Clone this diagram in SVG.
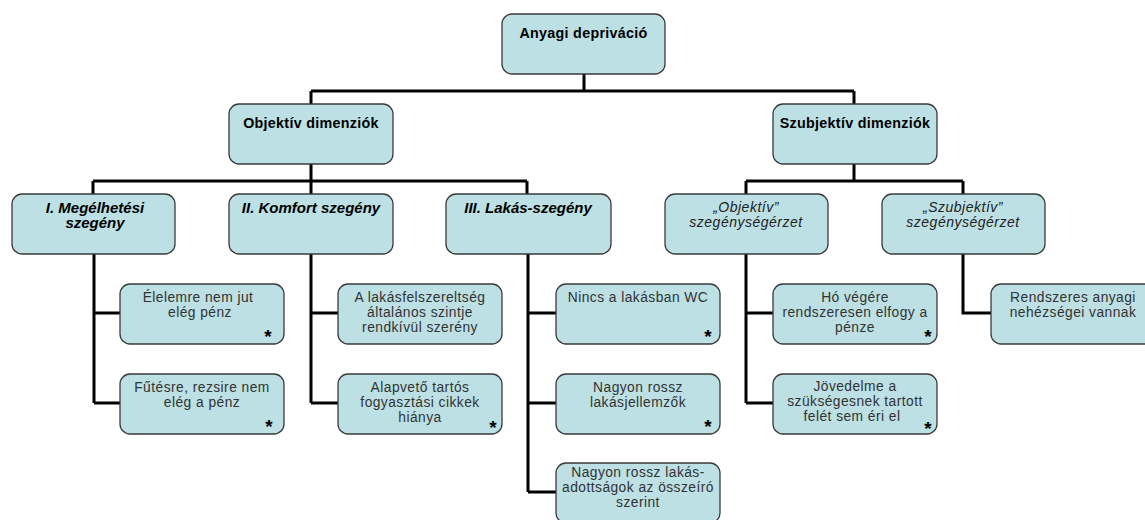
<svg xmlns="http://www.w3.org/2000/svg" width="1145" height="520" viewBox="0 0 1145 520">
<style>
.box{fill:#bce0e3;stroke:#3a3a3a;stroke-width:1.3}
.t{font-family:"Liberation Sans",Arial,sans-serif;font-size:14.3px;font-weight:bold;fill:#000;text-anchor:middle;letter-spacing:0.3px}
.ti{font-family:"Liberation Sans",Arial,sans-serif;font-size:15px;font-weight:bold;font-style:italic;fill:#000;text-anchor:middle}
.si{font-family:"Liberation Sans",Arial,sans-serif;font-size:14px;font-style:italic;fill:#222;text-anchor:middle;letter-spacing:0.5px}
.l{font-family:"Liberation Sans",Arial,sans-serif;font-size:13.8px;fill:#333;text-anchor:middle;letter-spacing:0.45px}
.ast{font-family:"Liberation Sans",Arial,sans-serif;font-size:19px;font-weight:bold;fill:#000;text-anchor:middle}
.c{fill:none;stroke:#000;stroke-width:3}
</style>
<g id="connectors">
<path class="c" d="M584 74V91M311 91H854M311 91V104M854 91V104"/>
<path class="c" d="M311 164V181M93 181H527M93 181V194M311 181V194M527 181V194"/>
<path class="c" d="M854 164V181M746 181H963M746 181V194M963 181V194"/>
<path class="c" d="M94 254V403M94 313H120M94 403H120"/>
<path class="c" d="M311 254V403M311 313H338M311 403H338"/>
<path class="c" d="M528 254V492M528 313H556M528 403H556M528 492H556"/>
<path class="c" d="M746 254V403M746 313H773M746 403H773"/>
<path class="c" d="M963 254V313H991"/>
</g>
<g id="n-root"><rect class="box" x="502" y="14" width="163" height="60" rx="10"/><text class="t" x="583.5" y="38">Anyagi depriváció</text></g>
<g id="n-obj"><rect class="box" x="229" y="104" width="164" height="60" rx="10"/><text class="t" x="311" y="128">Objektív dimenziók</text></g>
<g id="n-szub"><rect class="box" x="773" y="104" width="164" height="60" rx="10"/><text class="t" x="855" y="128">Szubjektív dimenziók</text></g>
<g id="n-megelh"><rect class="box" x="12" y="194" width="163" height="60" rx="10"/><text class="ti" x="95" y="213">I. Megélhetési</text><text class="ti" x="95" y="228">szegény</text></g>
<g id="n-komfort"><rect class="box" x="229" y="194" width="164" height="60" rx="10"/><text class="ti" x="311" y="213">II. Komfort szegény</text></g>
<g id="n-lakas"><rect class="box" x="446" y="194" width="165" height="60" rx="10"/><text class="ti" x="528" y="213">III. Lakás-szegény</text></g>
<g id="n-objerz"><rect class="box" x="665" y="194" width="163" height="60" rx="10"/><text class="si" x="746" y="212">„Objektív”</text><text class="si" x="746" y="227">szegénységérzet</text></g>
<g id="n-szuberz"><rect class="box" x="882" y="194" width="163" height="60" rx="10"/><text class="si" x="963" y="212">„Szubjektív”</text><text class="si" x="963" y="227">szegénységérzet</text></g>
<g id="n-elelem"><rect class="box" x="120" y="284" width="164" height="60" rx="10"/><text class="l" x="198" y="302">Élelemre nem jut</text><text class="l" x="200" y="317">elég pénz</text><text class="ast" x="268" y="343">*</text></g>
<g id="n-futes"><rect class="box" x="120" y="374" width="164" height="60" rx="10"/><text class="l" x="202" y="392">Fűtésre, rezsire nem</text><text class="l" x="202" y="407">elég a pénz</text><text class="ast" x="269" y="433">*</text></g>
<g id="n-felszer"><rect class="box" x="338" y="284" width="164" height="60" rx="10"/><text class="l" x="420" y="302">A lakásfelszereltség</text><text class="l" x="420" y="317">általános szintje</text><text class="l" x="420" y="332">rendkívül szerény</text></g>
<g id="n-alapveto"><rect class="box" x="338" y="374" width="164" height="60" rx="10"/><text class="l" x="420" y="392">Alapvető tartós</text><text class="l" x="420" y="407">fogyasztási cikkek</text><text class="l" x="420" y="422">hiánya</text><text class="ast" x="493" y="434">*</text></g>
<g id="n-wc"><rect class="box" x="556" y="284" width="164" height="60" rx="10"/><text class="l" x="638" y="302">Nincs a lakásban WC</text><text class="ast" x="708" y="343">*</text></g>
<g id="n-jellem"><rect class="box" x="556" y="374" width="164" height="60" rx="10"/><text class="l" x="638" y="392">Nagyon rossz</text><text class="l" x="638" y="407">lakásjellemzők</text><text class="ast" x="708" y="433">*</text></g>
<g id="n-adott"><rect class="box" x="556" y="463" width="164" height="60" rx="10"/><text class="l" x="638" y="477">Nagyon rossz lakás-</text><text class="l" x="638" y="492">adottságok az összeíró</text><text class="l" x="638" y="507">szerint</text></g>
<g id="n-ho"><rect class="box" x="773" y="284" width="164" height="60" rx="10"/><text class="l" x="855" y="302">Hó végére</text><text class="l" x="855" y="317">rendszeresen elfogy a</text><text class="l" x="855" y="332">pénze</text><text class="ast" x="928" y="343">*</text></g>
<g id="n-jov"><rect class="box" x="773" y="374" width="164" height="60" rx="10"/><text class="l" x="855" y="391">Jövedelme a</text><text class="l" x="855" y="406">szükségesnek tartott</text><text class="l" x="852" y="421">felét sem éri el</text><text class="ast" x="928" y="435">*</text></g>
<g id="n-rendsz"><rect class="box" x="991" y="284" width="164" height="60" rx="10"/><text class="l" x="1073" y="302">Rendszeres anyagi</text><text class="l" x="1073" y="317">nehézségei vannak</text></g>
</svg>
